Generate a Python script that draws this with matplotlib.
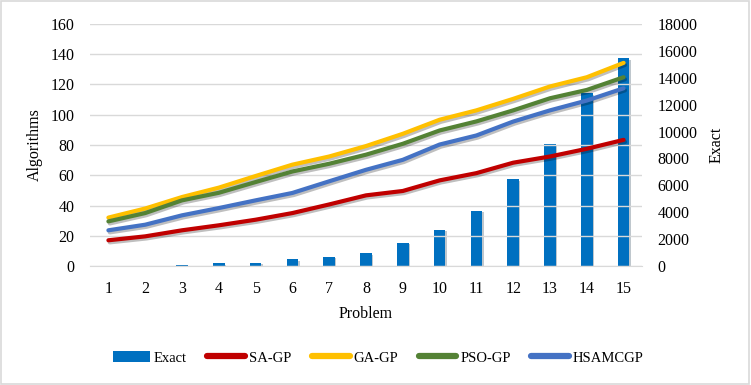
import numpy as np
import matplotlib
matplotlib.use("Agg")
import matplotlib.pyplot as plt
import matplotlib.patheffects as pe
from matplotlib.patches import Rectangle

plt.rcParams['font.family'] = ['Liberation Serif', 'DejaVu Serif']
plt.rcParams['font.size'] = 11.5

problems = list(range(1, 16))
exact = [10, 20, 100, 200, 250, 500, 700, 950, 1710, 2680, 4110, 6450, 9070, 12850, 15450]
sa_gp = [17.0, 19.6, 23.6, 26.9, 30.6, 35.0, 40.7, 46.7, 49.6, 56.6, 61.4, 68.3, 72.4, 77.5, 83.4]
ga_gp = [32.0, 38.0, 45.6, 51.8, 59.5, 67.0, 72.4, 79.3, 87.4, 96.7, 102.9, 110.5, 118.7, 124.8, 134.3]
pso_gp = [29.5, 35.0, 43.4, 48.4, 55.5, 62.5, 67.6, 73.6, 80.8, 89.6, 95.6, 102.9, 110.9, 116.4, 124.8]
hsamcgp = [23.6, 27.3, 33.5, 38.3, 43.4, 48.3, 56.0, 63.6, 70.2, 80.3, 86.3, 95.5, 102.9, 109.4, 117.5]

series = [('SA-GP', sa_gp, '#C00000'),
          ('GA-GP', ga_gp, '#FFC000'),
          ('PSO-GP', pso_gp, '#548235'),
          ('HSAMCGP', hsamcgp, '#4472C4')]

fig = plt.figure(figsize=(7.51, 3.85), dpi=100)
fig.patches.append(Rectangle((0.001, 0.002), 0.997, 0.995, transform=fig.transFigure,
                             fill=False, edgecolor='#D9D9D9', linewidth=1.2))
ax = fig.add_axes([90/751, 1-266/385, 552/751, 242/385])
ax2 = ax.twinx()

# bars on secondary axis, drawn behind lines
bars = ax2.bar(problems, exact, width=0.32, color='#0070C0', label='Exact', zorder=2)
for b in bars:
    b.set_path_effects([pe.SimplePatchShadow(offset=(1, -1), alpha=0.25), pe.Normal()])
ax2.set_ylim(0, 18000)
ax2.set_yticks(np.arange(0, 18001, 2000))

ax.set_zorder(ax2.get_zorder() + 1)
ax.patch.set_visible(False)

lines = []
for name, vals, col in series:
    ln, = ax.plot(problems, vals, color=col, lw=3, solid_capstyle='round', label=name,
                  path_effects=[pe.SimpleLineShadow(offset=(1, -1.5), alpha=0.25), pe.Normal()])
    lines.append(ln)

ax.set_xlim(0.5, 15.5)
ax.set_ylim(0, 160)
ax.set_yticks(np.arange(0, 161, 20))
ax.set_xticks(problems)
ax.grid(axis='y', color='#D9D9D9', lw=1)
ax.set_axisbelow(True)

for a in (ax, ax2):
    for s in a.spines.values():
        s.set_visible(False)
    a.tick_params(length=0, pad=11, colors='black')
ax.spines['bottom'].set_visible(True)
ax.spines['bottom'].set_color('#D9D9D9')

ax.set_xlabel('Problem', labelpad=6)
ax.set_ylabel('Algorithms', labelpad=6)
ax2.set_ylabel('Exact', labelpad=8)

handles = [bars] + lines
labels = ['Exact'] + [s[0] for s in series]
leg = fig.legend(handles, labels, loc='center', bbox_to_anchor=(378/751, 1-358/385),
                 ncol=5, frameon=False, fontsize=10.5, handlelength=2.6, handletextpad=0.25,
                 columnspacing=1.4, handleheight=0.8)
leg.legend_handles[0].set_path_effects([])
for h in leg.legend_handles[1:]:
    h.set_linewidth(4.5)
    h.set_path_effects([])

fig.savefig('out.png', dpi=100)
